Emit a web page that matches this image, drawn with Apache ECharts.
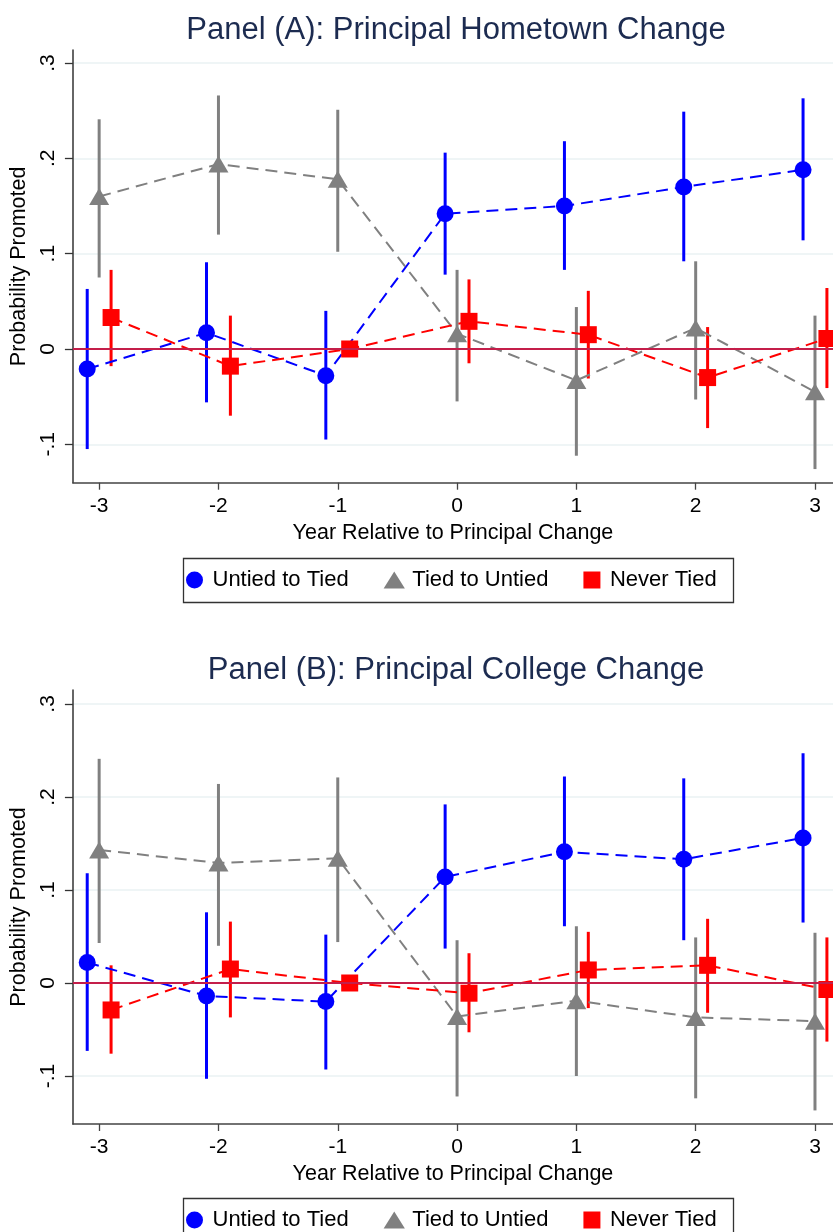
<!DOCTYPE html>
<html><head><meta charset="utf-8">
<script src="https://cdn.jsdelivr.net/npm/echarts@6/dist/echarts.min.js"></script>
<style>html,body{margin:0;padding:0;background:#fff;}#c{width:833px;height:1232px;}</style>
</head><body><div id="c"></div>
<script>
// ---------------- DATA ----------------
const years = [-3, -2, -1, 0, 1, 2, 3];
const xTickLabels = ['-3', '-2', '-1', '0', '1', '2', '3'];
const yTickValues = [-0.1, 0, 0.1, 0.2, 0.3];
const yTickLabels = ['-.1', '0', '.1', '.2', '.3'];
const seriesNames = ['Untied to Tied', 'Tied to Untied', 'Never Tied'];
const panelTitles = ['Panel (A): Principal Hometown Change', 'Panel (B): Principal College Change'];
const xAxisTitle = 'Year Relative to Principal Change';
const yAxisTitle = 'Probability Promoted';

// Panel A: Principal Hometown Change
const untiedA    = [-0.021, 0.017, -0.028, 0.142, 0.150, 0.170, 0.188];
const untiedA_lo = [-0.105, -0.056, -0.095, 0.078, 0.083, 0.092, 0.114];
const untiedA_hi = [0.063, 0.091, 0.040, 0.206, 0.218, 0.249, 0.263];
const tiedA      = [0.160, 0.194, 0.178, 0.016, -0.033, 0.022, -0.045];
const tiedA_lo   = [0.075, 0.120, 0.102, -0.055, -0.112, -0.053, -0.126];
const tiedA_hi   = [0.241, 0.266, 0.251, 0.083, 0.044, 0.092, 0.035];
const neverA     = [0.033, -0.018, 0.000, 0.029, 0.015, -0.030, 0.011];
const neverA_lo  = [-0.018, -0.070, null, -0.015, -0.031, -0.083, -0.041];
const neverA_hi  = [0.083, 0.035, null, 0.073, 0.061, 0.023, 0.064];

// Panel B: Principal College Change
const untiedB    = [0.022, -0.014, -0.020, 0.114, 0.141, 0.133, 0.156];
const untiedB_lo = [-0.073, -0.103, -0.093, 0.037, 0.061, 0.046, 0.065];
const untiedB_hi = [0.118, 0.076, 0.052, 0.192, 0.222, 0.220, 0.247];
const tiedB      = [0.143, 0.129, 0.134, -0.036, -0.019, -0.037, -0.041];
const tiedB_lo   = [0.043, 0.040, 0.044, -0.122, -0.100, -0.124, -0.137];
const tiedB_hi   = [0.241, 0.214, 0.221, 0.046, 0.061, 0.049, 0.054];
const neverB     = [-0.029, 0.015, 0.000, -0.011, 0.014, 0.019, -0.007];
const neverB_lo  = [-0.076, -0.037, null, -0.053, -0.027, -0.032, -0.063];
const neverB_hi  = [0.019, 0.066, null, 0.032, 0.055, 0.069, 0.049];

// ---------------- STYLE / LAYOUT ----------------
const FONT = "'Liberation Sans', Arial, Helvetica, sans-serif";
const COLORS = ['#0000ff', '#808080', '#ff0000'];
const SYMBOLS = ['circle', 'triangle', 'rect'];
const SYMBOL_SIZES = [17, [20, 17], 17];
const OFFSETS = [-0.1, 0, 0.1];
const LEGEND_ICONS = ['circle', 'path://M0,16L10,0L20,16Z', 'path://M0,0H10V10H0Z'];

const panels = [
  { vals: [untiedA, tiedA, neverA], lo: [untiedA_lo, tiedA_lo, neverA_lo], hi: [untiedA_hi, tiedA_hi, neverA_hi] },
  { vals: [untiedB, tiedB, neverB], lo: [untiedB_lo, tiedB_lo, neverB_lo], hi: [untiedB_hi, tiedB_hi, neverB_hi] }
];
const gridLayout = [
  { left: 71.7, top: 50, width: 761.3, height: 432.7, ymin: -0.1403, ymax: 0.3137, titleTop: 10, legendTop: 569, boxTop: 556 },
  { left: 71.7, top: 690, width: 761.3, height: 434, ymin: -0.1516, ymax: 0.315, titleTop: 650, legendTop: 1209, boxTop: 1196 }
];
const X_MIN = -3.22, X_MAX = 3.151;

function fmtLabel(values, labels) {
  return function (v) {
    for (let i = 0; i < values.length; i++) if (Math.abs(values[i] - v) < 1e-9) return labels[i];
    return '';
  };
}

const grids = [], xAxes = [], yAxes = [], series = [], titles = [], legends = [], graphics = [];

gridLayout.forEach((g, p) => {
  grids.push({ left: g.left, top: g.top, width: g.width, height: g.height, containLabel: false });
  xAxes.push({
    type: 'value', gridIndex: p, min: X_MIN, max: X_MAX,
    name: xAxisTitle, nameLocation: 'middle', nameGap: 39,
    nameTextStyle: { fontFamily: FONT, fontSize: 21.5, color: '#000' },
    axisLine: { show: true, onZero: false, lineStyle: { color: '#444', width: 1.5 } },
    axisTick: { show: true, length: 7, customValues: years, lineStyle: { color: '#444', width: 1.3 } },
    axisLabel: { customValues: years, formatter: fmtLabel(years, xTickLabels), margin: 13,
      fontFamily: FONT, fontSize: 21, color: '#000' },
    splitLine: { show: false }
  });
  yAxes.push({
    type: 'value', gridIndex: p, min: g.ymin, max: g.ymax,
    name: yAxisTitle, nameLocation: 'middle', nameGap: 37, nameRotate: 90,
    nameTextStyle: { fontFamily: FONT, fontSize: 21.5, color: '#000' },
    axisLine: { show: true, onZero: false, lineStyle: { color: '#333', width: 1.5 } },
    axisTick: { show: true, length: 8, customValues: yTickValues, lineStyle: { color: '#333', width: 1.3 } },
    axisLabel: { customValues: yTickValues, formatter: fmtLabel(yTickValues, yTickLabels), rotate: 90, margin: 14,
      fontFamily: FONT, fontSize: 21, color: '#000' },
    splitLine: { show: true, lineStyle: { color: '#eaf2f3', width: 1.5 } }
  });
  titles.push({
    text: panelTitles[p], left: 451, top: g.titleTop, textAlign: 'center',
    textStyle: { fontFamily: FONT, fontSize: 31, fontWeight: 'normal', color: '#1c2b50' }
  });
  legends.push({
    show: true, orient: 'horizontal', left: 186, top: g.legendTop, padding: 0,
    itemWidth: 26, itemHeight: 17, itemGap: 35,
    selectedMode: false,
    textStyle: { fontFamily: FONT, fontSize: 22, color: '#000' },
    data: seriesNames.map((n, k) => ({ name: n, icon: LEGEND_ICONS[k] }))
  });
  graphics.push({
    type: 'rect', left: 181, top: g.boxTop, silent: true,
    shape: { width: 550, height: 44 },
    style: { fill: 'none', stroke: '#333', lineWidth: 1.3 }
  });

  // zero reference line
  series.push({
    type: 'line', xAxisIndex: p, yAxisIndex: p, data: [], z: 1, silent: true,
    markLine: { silent: true, symbol: 'none', label: { show: false },
      lineStyle: { color: '#c41e4a', width: 1.8, type: 'solid' },
      data: [{ yAxis: 0 }] }
  });

  const pd = panels[p];
  // confidence intervals
  for (let k = 0; k < 3; k++) {
    const data = [];
    years.forEach((yr, i) => {
      if (pd.lo[k][i] != null && pd.hi[k][i] != null) data.push([yr + OFFSETS[k], pd.lo[k][i], pd.hi[k][i]]);
    });
    series.push({
      type: 'custom', name: 'ci' + p + k, xAxisIndex: p, yAxisIndex: p, z: 2, silent: true,
      data: data, encode: { x: 0, y: [1, 2] },
      renderItem: (function (color) {
        return function (params, api) {
          const x = api.value(0);
          const a = api.coord([x, api.value(1)]);
          const b = api.coord([x, api.value(2)]);
          return { type: 'line', shape: { x1: a[0], y1: a[1], x2: b[0], y2: b[1] },
            style: { stroke: color, lineWidth: 3, lineCap: 'butt' } };
        };
      })(COLORS[k])
    });
  }
  // dashed connecting lines
  for (let k = 0; k < 3; k++) {
    series.push({
      type: 'line', name: 'conn' + p + k, xAxisIndex: p, yAxisIndex: p, z: 3, silent: true,
      data: years.map((yr, i) => [yr + OFFSETS[k], pd.vals[k][i]]),
      showSymbol: false, symbol: 'none',
      lineStyle: { color: COLORS[k], width: 2, type: [12, 7] }
    });
  }
  // markers
  for (let k = 0; k < 3; k++) {
    series.push({
      type: 'scatter', name: seriesNames[k], xAxisIndex: p, yAxisIndex: p, z: 4, silent: true,
      data: years.map((yr, i) => [yr + OFFSETS[k], pd.vals[k][i]]),
      symbol: SYMBOLS[k], symbolSize: SYMBOL_SIZES[k],
      itemStyle: { color: COLORS[k], opacity: 1 }
    });
  }
});

const chart = echarts.init(document.getElementById('c'), null, { renderer: 'canvas' });
chart.setOption({
  animation: false,
  backgroundColor: '#ffffff',
  textStyle: { fontFamily: FONT },
  title: titles,
  legend: legends,
  grid: grids,
  xAxis: xAxes,
  yAxis: yAxes,
  graphic: graphics,
  series: series
});
</script>
</body></html>
